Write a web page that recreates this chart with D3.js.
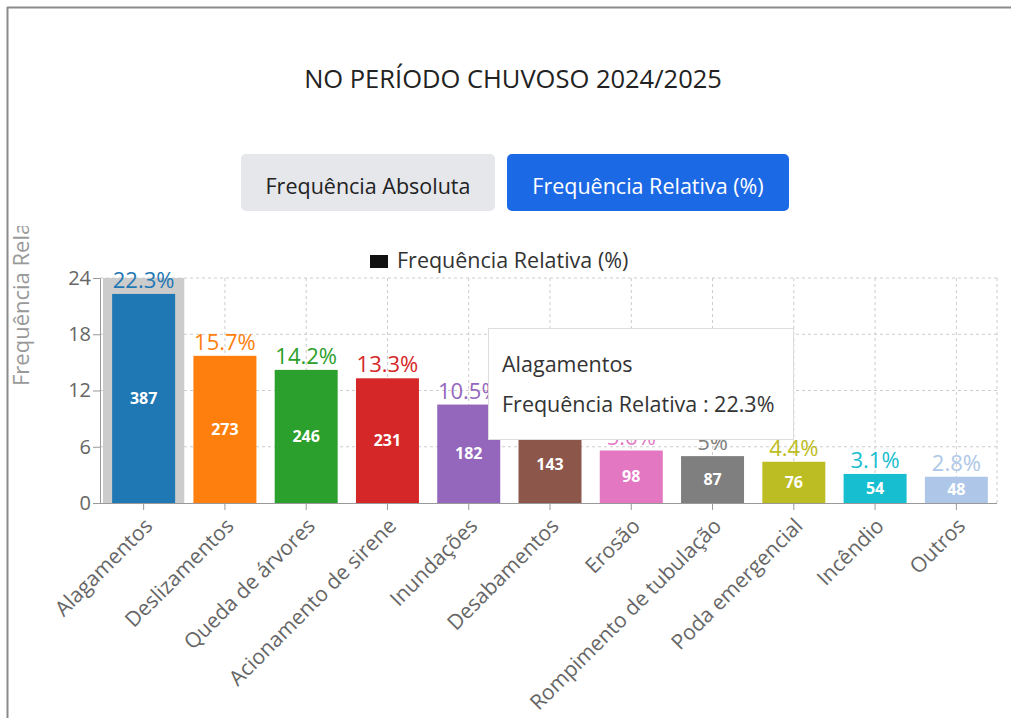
<!DOCTYPE html>
<html>
<head>
<meta charset="utf-8">
<script src="https://cdn.jsdelivr.net/npm/d3@7"></script>
<style>
  html, body { margin: 0; padding: 0; background: #fff; }
  svg { display: block; font-family: "Open Sans", "Noto Sans", sans-serif; }
</style>
</head>
<body>
<svg id="chart" width="1011" height="718"></svg>
<script>
const title = "NO PERÍODO CHUVOSO 2024/2025";
const buttonLabels = ["Frequência Absoluta", "Frequência Relativa (%)"];
const seriesName = "Frequência Relativa (%)";
const yAxisLabel = "Frequência Relativa (%)";
const categories = ["Alagamentos", "Deslizamentos", "Queda de árvores", "Acionamento de sirene", "Inundações", "Desabamentos", "Erosão", "Rompimento de tubulação", "Poda emergencial", "Incêndio", "Outros"];
const relativeValues = [22.3, 15.7, 14.2, 13.3, 10.5, 8.2, 5.6, 5, 4.4, 3.1, 2.8];
const absoluteValues = [387, 273, 246, 231, 182, 143, 98, 87, 76, 54, 48];
const barColors = ["#1f77b4", "#ff7f0e", "#2ca02c", "#d62728", "#9467bd", "#8c564b", "#e377c2", "#7f7f7f", "#bcbd22", "#17becf", "#aec7e8"];
const yTicks = [0, 6, 12, 18, 24];
const hoveredIndex = 0;

const data = categories.map((c, i) => ({ cat: c, rel: relativeValues[i], abs: absoluteValues[i], color: barColors[i] }));

const svg = d3.select("#chart");

// frame
svg.append("line").attr("x1", 7).attr("x2", 1011).attr("y1", 7.5).attr("y2", 7.5).attr("stroke", "#8a8a8a").attr("stroke-width", 2);
svg.append("line").attr("x1", 7.5).attr("x2", 7.5).attr("y1", 7).attr("y2", 718).attr("stroke", "#8a8a8a").attr("stroke-width", 2);

// title
svg.append("text").attr("x", 513).attr("y", 88).attr("text-anchor", "middle")
  .attr("font-size", 25.5).attr("fill", "#222").text(title);

// buttons
const btns = [
  { x: 241, w: 254, fill: "#e5e7eb", color: "#222" },
  { x: 507, w: 282, fill: "#1c69e6", color: "#fff" }
];
btns.forEach((b, i) => {
  svg.append("rect").attr("x", b.x).attr("y", 154).attr("width", b.w).attr("height", 57).attr("rx", 5).attr("fill", b.fill);
  svg.append("text").attr("x", b.x + b.w / 2).attr("y", 194).attr("text-anchor", "middle")
    .attr("font-size", 21.5).attr("fill", b.color).text(buttonLabels[i]);
});

// chart
const x = d3.scaleBand().domain(categories).range([103, 997]).paddingInner(0.225).paddingOuter(0.1125);
const y = d3.scaleLinear().domain([0, 24]).range([503, 278]);

svg.append("clipPath").attr("id", "chartClip").append("rect").attr("x", 0).attr("y", 226).attr("width", 1011).attr("height", 492);
const g = svg.append("g").attr("clip-path", "url(#chartClip)");

// grid
const grid = g.append("g").attr("stroke", "#ccc").attr("stroke-dasharray", "3 3").attr("stroke-width", 1);
grid.selectAll(".hg").data(yTicks.filter(t => t > 0)).join("line")
  .attr("x1", 100).attr("x2", 997).attr("y1", d => y(d)).attr("y2", d => y(d));
grid.selectAll(".vg").data(categories).join("line")
  .attr("x1", d => x(d) + x.bandwidth() / 2).attr("x2", d => x(d) + x.bandwidth() / 2)
  .attr("y1", y(24)).attr("y2", y(0));
grid.append("line").attr("x1", 997).attr("x2", 997).attr("y1", y(24)).attr("y2", y(0));

// hover cursor
g.append("rect").attr("x", x(categories[hoveredIndex]) - x.step() * x.paddingInner() / 2)
  .attr("y", y(24)).attr("width", x.step()).attr("height", y(0) - y(24)).attr("fill", "#ccc");

// bars
g.selectAll(".bar").data(data).join("rect")
  .attr("x", d => x(d.cat)).attr("y", d => y(d.rel))
  .attr("width", x.bandwidth()).attr("height", d => y(0) - y(d.rel))
  .attr("fill", d => d.color);

// top labels
g.selectAll(".toplab").data(data).join("text")
  .attr("x", d => x(d.cat) + x.bandwidth() / 2).attr("y", d => y(d.rel) - 6)
  .attr("text-anchor", "middle").attr("font-size", 22).attr("fill", d => d.color)
  .text(d => d.rel + "%");

// inner labels
g.selectAll(".inlab").data(data).join("text")
  .attr("x", d => x(d.cat) + x.bandwidth() / 2).attr("y", d => (y(d.rel) + y(0)) / 2)
  .attr("dy", "0.35em").attr("text-anchor", "middle").attr("font-size", 16).attr("font-weight", "bold")
  .attr("fill", "#fff").text(d => d.abs);

// y axis
const yAxis = g.append("g").attr("transform", "translate(100,0)")
  .call(d3.axisLeft(y).tickValues(yTicks).tickSize(7).tickPadding(2));
yAxis.select(".domain").attr("stroke", "#999");
yAxis.selectAll(".tick line").attr("stroke", "#999");
yAxis.selectAll(".tick text").attr("font-size", 20).attr("fill", "#666").attr("font-family", "Open Sans");

// x axis
const xAxis = g.append("g").attr("transform", "translate(0,503)")
  .call(d3.axisBottom(x).tickSize(7).tickSizeOuter(0));
xAxis.select(".domain").attr("stroke", "#999").attr("d", "M97,0.5H997");
xAxis.selectAll(".tick line").attr("stroke", "#999");
xAxis.selectAll(".tick text").attr("font-size", 21).attr("fill", "#666").attr("font-family", "Open Sans")
  .attr("text-anchor", "end").attr("transform", "translate(5,19) rotate(-45)").attr("dy", "0.35em").attr("y", 0).attr("x", 0);

// y axis title
g.append("text").attr("transform", "translate(29,386) rotate(-90)")
  .attr("font-size", 22).attr("fill", "#999").attr("text-anchor", "start").text(yAxisLabel);

// legend
g.append("rect").attr("x", 370).attr("y", 255).attr("width", 18).attr("height", 13).attr("fill", "#111");
g.append("text").attr("x", 397).attr("y", 268).attr("font-size", 21.5).attr("fill", "#333").text(seriesName);

// tooltip
const tip = svg.append("g").attr("transform", "translate(488,328)");
tip.append("rect").attr("x", 0.5).attr("y", 0.5).attr("width", 305).attr("height", 111)
  .attr("fill", "#fff").attr("stroke", "#ddd");
tip.append("text").attr("x", 14).attr("y", 44).attr("font-size", 21.5).attr("fill", "#333").text(data[hoveredIndex].cat);
tip.append("text").attr("x", 14).attr("y", 84).attr("font-size", 21.5).attr("fill", "#333")
  .text(seriesName.replace(" (%)", "") + " : " + data[hoveredIndex].rel + "%");
</script>
</body>
</html>
